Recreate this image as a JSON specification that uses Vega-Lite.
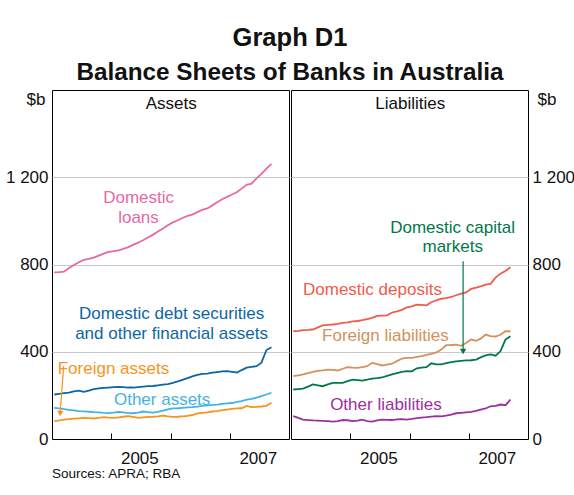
{
  "$schema": "https://vega.github.io/schema/vega-lite/v6.json",
  "padding": {"left": 4, "top": 25, "right": 0, "bottom": 5},
  "background": "white",
  "config": {
    "font": "Liberation Sans",
    "view": {"stroke": "#000000", "strokeWidth": 1},
    "axis": {"labelFont": "Liberation Sans", "labelFontSize": 17, "labelColor": "#111111", "titleFont": "Liberation Sans", "titleFontSize": 17, "titleFontWeight": "normal", "titleColor": "#111111"},
    "text": {"font": "Liberation Sans", "fontSize": 17}
  },
  "title": {"text": "Graph D1", "subtitle": "Balance Sheets of Banks in Australia", "font": "Liberation Sans", "subtitleFont": "Liberation Sans", "fontSize": 25.5, "fontWeight": "bold", "subtitleFontSize": 24.3, "subtitleFontWeight": "bold", "color": "#111111", "subtitleColor": "#111111", "anchor": "middle", "offset": 4, "subtitlePadding": 10},
  "datasets": {
    "assets": [
      {"d": "2004-01-15", "loans": 764, "debt": 204, "other": 143, "foreign": 82},
      {"d": "2004-02-15", "loans": 765, "debt": 207, "other": 140, "foreign": 85},
      {"d": "2004-03-15", "loans": 767, "debt": 210, "other": 137, "foreign": 89},
      {"d": "2004-04-15", "loans": 784, "debt": 213, "other": 134, "foreign": 91},
      {"d": "2004-05-15", "loans": 798, "debt": 218, "other": 131, "foreign": 93},
      {"d": "2004-06-15", "loans": 810, "debt": 222, "other": 128, "foreign": 95},
      {"d": "2004-07-15", "loans": 821, "debt": 216, "other": 127, "foreign": 97},
      {"d": "2004-08-15", "loans": 826, "debt": 222, "other": 125, "foreign": 96},
      {"d": "2004-09-15", "loans": 832, "debt": 229, "other": 123, "foreign": 94},
      {"d": "2004-10-15", "loans": 841, "debt": 232, "other": 122, "foreign": 97},
      {"d": "2004-11-15", "loans": 850, "debt": 234, "other": 120, "foreign": 100},
      {"d": "2004-12-15", "loans": 858, "debt": 236, "other": 119, "foreign": 98},
      {"d": "2005-01-15", "loans": 861, "debt": 238, "other": 121, "foreign": 97},
      {"d": "2005-02-15", "loans": 865, "debt": 239, "other": 124, "foreign": 99},
      {"d": "2005-03-15", "loans": 872, "debt": 238, "other": 122, "foreign": 102},
      {"d": "2005-04-15", "loans": 880, "debt": 236, "other": 119, "foreign": 105},
      {"d": "2005-05-15", "loans": 890, "debt": 236, "other": 118, "foreign": 101},
      {"d": "2005-06-15", "loans": 900, "debt": 238, "other": 121, "foreign": 97},
      {"d": "2005-07-15", "loans": 911, "debt": 240, "other": 126, "foreign": 99},
      {"d": "2005-08-15", "loans": 924, "debt": 242, "other": 123, "foreign": 101},
      {"d": "2005-09-15", "loans": 937, "debt": 243, "other": 121, "foreign": 102},
      {"d": "2005-10-15", "loans": 951, "debt": 246, "other": 124, "foreign": 104},
      {"d": "2005-11-15", "loans": 965, "debt": 249, "other": 130, "foreign": 107},
      {"d": "2005-12-15", "loans": 980, "debt": 252, "other": 136, "foreign": 104},
      {"d": "2006-01-15", "loans": 993, "debt": 257, "other": 140, "foreign": 101},
      {"d": "2006-02-15", "loans": 1003, "debt": 264, "other": 141, "foreign": 102},
      {"d": "2006-03-15", "loans": 1013, "debt": 271, "other": 143, "foreign": 104},
      {"d": "2006-04-15", "loans": 1023, "debt": 279, "other": 145, "foreign": 106},
      {"d": "2006-05-15", "loans": 1029, "debt": 287, "other": 146, "foreign": 110},
      {"d": "2006-06-15", "loans": 1040, "debt": 294, "other": 148, "foreign": 117},
      {"d": "2006-07-15", "loans": 1050, "debt": 299, "other": 152, "foreign": 120},
      {"d": "2006-08-15", "loans": 1057, "debt": 300, "other": 154, "foreign": 122},
      {"d": "2006-09-15", "loans": 1071, "debt": 304, "other": 156, "foreign": 126},
      {"d": "2006-10-15", "loans": 1085, "debt": 307, "other": 158, "foreign": 128},
      {"d": "2006-11-15", "loans": 1099, "debt": 310, "other": 161, "foreign": 132},
      {"d": "2006-12-15", "loans": 1110, "debt": 311, "other": 163, "foreign": 135},
      {"d": "2007-01-15", "loans": 1121, "debt": 308, "other": 165, "foreign": 138},
      {"d": "2007-02-15", "loans": 1132, "debt": 305, "other": 170, "foreign": 140},
      {"d": "2007-03-15", "loans": 1148, "debt": 316, "other": 174, "foreign": 141},
      {"d": "2007-04-15", "loans": 1165, "debt": 327, "other": 180, "foreign": 152},
      {"d": "2007-05-15", "loans": 1171, "debt": 331, "other": 184, "foreign": 146},
      {"d": "2007-06-15", "loans": 1195, "debt": 334, "other": 190, "foreign": 147},
      {"d": "2007-07-15", "loans": 1215, "debt": 350, "other": 197, "foreign": 149},
      {"d": "2007-08-15", "loans": 1240, "debt": 408, "other": 204, "foreign": 152},
      {"d": "2007-09-15", "loans": 1261, "debt": 421, "other": 212, "foreign": 166}
    ],
    "liab": [
      {"d": "2004-01-15", "deposits": 494, "flia": 288, "capmkt": 227, "olia": 105},
      {"d": "2004-02-15", "deposits": 496, "flia": 292, "capmkt": 229, "olia": 97},
      {"d": "2004-03-15", "deposits": 499, "flia": 296, "capmkt": 231, "olia": 89},
      {"d": "2004-04-15", "deposits": 500, "flia": 302, "capmkt": 240, "olia": 87},
      {"d": "2004-05-15", "deposits": 502, "flia": 308, "capmkt": 250, "olia": 85},
      {"d": "2004-06-15", "deposits": 512, "flia": 312, "capmkt": 246, "olia": 84},
      {"d": "2004-07-15", "deposits": 521, "flia": 315, "capmkt": 242, "olia": 83},
      {"d": "2004-08-15", "deposits": 523, "flia": 318, "capmkt": 250, "olia": 82},
      {"d": "2004-09-15", "deposits": 525, "flia": 317, "capmkt": 257, "olia": 80},
      {"d": "2004-10-15", "deposits": 528, "flia": 314, "capmkt": 257, "olia": 82},
      {"d": "2004-11-15", "deposits": 532, "flia": 322, "capmkt": 257, "olia": 87},
      {"d": "2004-12-15", "deposits": 535, "flia": 329, "capmkt": 265, "olia": 86},
      {"d": "2005-01-15", "deposits": 539, "flia": 327, "capmkt": 272, "olia": 82},
      {"d": "2005-02-15", "deposits": 541, "flia": 326, "capmkt": 270, "olia": 84},
      {"d": "2005-03-15", "deposits": 545, "flia": 330, "capmkt": 268, "olia": 89},
      {"d": "2005-04-15", "deposits": 550, "flia": 334, "capmkt": 272, "olia": 82},
      {"d": "2005-05-15", "deposits": 555, "flia": 349, "capmkt": 277, "olia": 80},
      {"d": "2005-06-15", "deposits": 564, "flia": 343, "capmkt": 279, "olia": 85},
      {"d": "2005-07-15", "deposits": 566, "flia": 337, "capmkt": 282, "olia": 89},
      {"d": "2005-08-15", "deposits": 567, "flia": 341, "capmkt": 289, "olia": 88},
      {"d": "2005-09-15", "deposits": 580, "flia": 345, "capmkt": 296, "olia": 87},
      {"d": "2005-10-15", "deposits": 585, "flia": 357, "capmkt": 302, "olia": 90},
      {"d": "2005-11-15", "deposits": 592, "flia": 369, "capmkt": 308, "olia": 91},
      {"d": "2005-12-15", "deposits": 603, "flia": 372, "capmkt": 311, "olia": 89},
      {"d": "2006-01-15", "deposits": 608, "flia": 372, "capmkt": 310, "olia": 92},
      {"d": "2006-02-15", "deposits": 616, "flia": 376, "capmkt": 324, "olia": 96},
      {"d": "2006-03-15", "deposits": 615, "flia": 380, "capmkt": 327, "olia": 98},
      {"d": "2006-04-15", "deposits": 613, "flia": 386, "capmkt": 329, "olia": 100},
      {"d": "2006-05-15", "deposits": 627, "flia": 390, "capmkt": 347, "olia": 103},
      {"d": "2006-06-15", "deposits": 636, "flia": 397, "capmkt": 342, "olia": 105},
      {"d": "2006-07-15", "deposits": 643, "flia": 410, "capmkt": 342, "olia": 104},
      {"d": "2006-08-15", "deposits": 646, "flia": 430, "capmkt": 348, "olia": 107},
      {"d": "2006-09-15", "deposits": 651, "flia": 431, "capmkt": 352, "olia": 112},
      {"d": "2006-10-15", "deposits": 659, "flia": 433, "capmkt": 356, "olia": 118},
      {"d": "2006-11-15", "deposits": 666, "flia": 427, "capmkt": 358, "olia": 120},
      {"d": "2006-12-15", "deposits": 672, "flia": 440, "capmkt": 360, "olia": 122},
      {"d": "2007-01-15", "deposits": 688, "flia": 456, "capmkt": 361, "olia": 124},
      {"d": "2007-02-15", "deposits": 694, "flia": 450, "capmkt": 364, "olia": 129},
      {"d": "2007-03-15", "deposits": 700, "flia": 460, "capmkt": 374, "olia": 135},
      {"d": "2007-04-15", "deposits": 708, "flia": 479, "capmkt": 383, "olia": 140},
      {"d": "2007-05-15", "deposits": 711, "flia": 472, "capmkt": 388, "olia": 150},
      {"d": "2007-06-15", "deposits": 740, "flia": 470, "capmkt": 382, "olia": 152},
      {"d": "2007-07-15", "deposits": 758, "flia": 478, "capmkt": 402, "olia": 158},
      {"d": "2007-08-15", "deposits": 770, "flia": 494, "capmkt": 456, "olia": 155},
      {"d": "2007-09-15", "deposits": 787, "flia": 494, "capmkt": 471, "olia": 181}
    ],
    "labels": [
      {"panel": "A", "series": "hdr", "text": "Assets", "d": "2006-01-05", "v": 1537},
      {"panel": "A", "series": "loans", "text": "Domestic", "d": "2005-06-18", "v": 1107},
      {"panel": "A", "series": "loans", "text": "loans", "d": "2005-06-17", "v": 1015},
      {"panel": "A", "series": "debt", "text": "Domestic debt securities", "d": "2006-01-07", "v": 575},
      {"panel": "A", "series": "debt", "text": "and other financial assets", "d": "2006-01-07", "v": 483},
      {"panel": "A", "series": "foreign", "text": "Foreign assets", "d": "2005-01-14", "v": 321},
      {"panel": "A", "series": "other", "text": "Other assets", "d": "2005-11-10", "v": 181},
      {"panel": "L", "series": "hdr", "text": "Liabilities", "d": "2006-01-05", "v": 1537},
      {"panel": "L", "series": "capmkt", "text": "Domestic capital", "d": "2006-09-23", "v": 969},
      {"panel": "L", "series": "capmkt", "text": "markets", "d": "2006-09-24", "v": 882},
      {"panel": "L", "series": "deposits", "text": "Domestic deposits", "d": "2005-05-17", "v": 685},
      {"panel": "L", "series": "flia", "text": "Foreign liabilities", "d": "2005-08-05", "v": 470},
      {"panel": "L", "series": "olia", "text": "Other liabilities", "d": "2005-08-08", "v": 158}
    ],
    "arrows": [
      {"panel": "A", "series": "foreign", "d": "2004-03-13", "v": 334, "d2": "2004-02-20", "v2": 117},
      {"panel": "L", "series": "capmkt", "d": "2006-11-27", "v": 815, "d2": "2006-11-27", "v2": 401}
    ]
  },
  "spacing": 0,
  "hconcat": [
    {
      "width": 237,
      "height": 349,
      "title": {"text": "Sources: APRA; RBA", "orient": "bottom", "anchor": "start", "frame": "group", "fontSize": 13.5, "fontWeight": "normal", "color": "#111111", "offset": 1, "font": "Liberation Sans"},
      "layer": [
        {
          "data": {"name": "assets"},
          "transform": [{"fold": ["loans", "debt", "other", "foreign"], "as": ["series", "value"]}],
          "mark": {"type": "line", "strokeWidth": 1.8, "clip": true},
          "encoding": {
            "x": {"field": "d", "type": "temporal",
              "scale": {"type": "utc", "domain": [{"year": 2004, "month": 1, "date": 1, "utc": true}, {"year": 2008, "month": 1, "date": 1, "utc": true}]},
              "axis": {"title": null, "values": [{"year": 2005, "month": 1, "date": 1, "utc": true}, {"year": 2006, "month": 1, "date": 1, "utc": true}, {"year": 2007, "month": 1, "date": 1, "utc": true}],
                "format": "%Y", "labelExpr": "datum.label == '2006' ? '' : datum.label", "grid": false, "domain": true, "domainColor": "#000000", "ticks": true, "tickColor": "#000000", "tickSize": -6, "labelOffset": 28, "labelPadding": 17, "labelFlush": false, "labelOverlap": false}},
            "y": {"field": "value", "type": "quantitative", "scale": {"domain": [0, 1600]},
              "axis": {"title": "$b", "titleAngle": 0, "titleAlign": "right", "titleBaseline": "middle", "titleX": -7, "titleY": 9, "values": [0, 400, 800, 1200], "labelExpr": "datum.value == 1200 ? '1 200' : datum.label", "grid": true, "gridColor": "#c8c8c8", "ticks": false, "domain": false, "labelPadding": 4}},
            "color": {"field": "series", "type": "nominal", "legend": null,
              "scale": {"domain": ["loans", "debt", "other", "foreign", "deposits", "flia", "capmkt", "olia", "hdr"], "range": ["#e46aa6", "#0c66a3", "#45b3e0", "#f7941d", "#ef5b4c", "#d4915d", "#00784a", "#9c2fa0", "#111111"]}}
          }
        },
        {
          "data": {"name": "labels"},
          "transform": [{"filter": "datum.panel == 'A'"}],
          "mark": {"type": "text", "align": "center", "baseline": "middle", "fontSize": 17},
          "encoding": {
            "x": {"field": "d", "type": "temporal"},
            "y": {"field": "v", "type": "quantitative"},
            "text": {"field": "text"},
            "color": {"field": "series", "type": "nominal", "legend": null,
              "scale": {"domain": ["loans", "debt", "other", "foreign", "deposits", "flia", "capmkt", "olia", "hdr"], "range": ["#e46aa6", "#0c66a3", "#45b3e0", "#f7941d", "#ef5b4c", "#d4915d", "#00784a", "#9c2fa0", "#111111"]}}
          }
        },
        {
          "data": {"name": "arrows"},
          "transform": [{"filter": "datum.panel == 'A'"}],
          "mark": {"type": "rule", "strokeWidth": 1.2},
          "encoding": {
            "x": {"field": "d", "type": "temporal"},
            "y": {"field": "v", "type": "quantitative"},
            "x2": {"field": "d2"},
            "y2": {"field": "v2"},
            "color": {"field": "series", "type": "nominal", "legend": null,
              "scale": {"domain": ["loans", "debt", "other", "foreign", "deposits", "flia", "capmkt", "olia", "hdr"], "range": ["#e46aa6", "#0c66a3", "#45b3e0", "#f7941d", "#ef5b4c", "#d4915d", "#00784a", "#9c2fa0", "#111111"]}}
          }
        },
        {
          "data": {"name": "arrows"},
          "transform": [{"filter": "datum.panel == 'A'"}],
          "mark": {"type": "point", "shape": "triangle-down", "filled": true, "size": 40, "angle": 5, "opacity": 1},
          "encoding": {
            "x": {"field": "d2", "type": "temporal"},
            "y": {"field": "v2", "type": "quantitative"},
            "color": {"field": "series", "type": "nominal", "legend": null,
              "scale": {"domain": ["loans", "debt", "other", "foreign", "deposits", "flia", "capmkt", "olia", "hdr"], "range": ["#e46aa6", "#0c66a3", "#45b3e0", "#f7941d", "#ef5b4c", "#d4915d", "#00784a", "#9c2fa0", "#111111"]}}
          }
        }
      ]
    },
    {
      "width": 237,
      "height": 349,
      "layer": [
        {
          "data": {"name": "liab"},
          "transform": [{"fold": ["deposits", "flia", "capmkt", "olia"], "as": ["series", "value"]}],
          "mark": {"type": "line", "strokeWidth": 1.8, "clip": true},
          "encoding": {
            "x": {"field": "d", "type": "temporal",
              "scale": {"type": "utc", "domain": [{"year": 2004, "month": 1, "date": 1, "utc": true}, {"year": 2008, "month": 1, "date": 1, "utc": true}]},
              "axis": {"title": null, "values": [{"year": 2005, "month": 1, "date": 1, "utc": true}, {"year": 2006, "month": 1, "date": 1, "utc": true}, {"year": 2007, "month": 1, "date": 1, "utc": true}],
                "format": "%Y", "labelExpr": "datum.label == '2006' ? '' : datum.label", "grid": false, "domain": true, "domainColor": "#000000", "ticks": true, "tickColor": "#000000", "tickSize": -6, "labelOffset": 28, "labelPadding": 17, "labelFlush": false, "labelOverlap": false}},
            "y": {"field": "value", "type": "quantitative", "scale": {"domain": [0, 1600]},
              "axis": {"orient": "right", "title": "$b", "titleAngle": 0, "titleAlign": "left", "titleBaseline": "middle", "titleX": 9, "titleY": 9, "values": [0, 400, 800, 1200], "labelExpr": "datum.value == 1200 ? '1 200' : datum.label", "grid": true, "gridColor": "#c8c8c8", "ticks": false, "domain": false, "labelPadding": 4}},
            "color": {"field": "series", "type": "nominal", "legend": null,
              "scale": {"domain": ["loans", "debt", "other", "foreign", "deposits", "flia", "capmkt", "olia", "hdr"], "range": ["#e46aa6", "#0c66a3", "#45b3e0", "#f7941d", "#ef5b4c", "#d4915d", "#00784a", "#9c2fa0", "#111111"]}}
          }
        },
        {
          "data": {"name": "labels"},
          "transform": [{"filter": "datum.panel == 'L'"}],
          "mark": {"type": "text", "align": "center", "baseline": "middle", "fontSize": 17},
          "encoding": {
            "x": {"field": "d", "type": "temporal"},
            "y": {"field": "v", "type": "quantitative"},
            "text": {"field": "text"},
            "color": {"field": "series", "type": "nominal", "legend": null,
              "scale": {"domain": ["loans", "debt", "other", "foreign", "deposits", "flia", "capmkt", "olia", "hdr"], "range": ["#e46aa6", "#0c66a3", "#45b3e0", "#f7941d", "#ef5b4c", "#d4915d", "#00784a", "#9c2fa0", "#111111"]}}
          }
        },
        {
          "data": {"name": "arrows"},
          "transform": [{"filter": "datum.panel == 'L'"}],
          "mark": {"type": "rule", "strokeWidth": 1.2},
          "encoding": {
            "x": {"field": "d", "type": "temporal"},
            "y": {"field": "v", "type": "quantitative"},
            "x2": {"field": "d2"},
            "y2": {"field": "v2"},
            "color": {"field": "series", "type": "nominal", "legend": null,
              "scale": {"domain": ["loans", "debt", "other", "foreign", "deposits", "flia", "capmkt", "olia", "hdr"], "range": ["#e46aa6", "#0c66a3", "#45b3e0", "#f7941d", "#ef5b4c", "#d4915d", "#00784a", "#9c2fa0", "#111111"]}}
          }
        },
        {
          "data": {"name": "arrows"},
          "transform": [{"filter": "datum.panel == 'L'"}],
          "mark": {"type": "point", "shape": "triangle-down", "filled": true, "size": 40, "opacity": 1},
          "encoding": {
            "x": {"field": "d2", "type": "temporal"},
            "y": {"field": "v2", "type": "quantitative"},
            "color": {"field": "series", "type": "nominal", "legend": null,
              "scale": {"domain": ["loans", "debt", "other", "foreign", "deposits", "flia", "capmkt", "olia", "hdr"], "range": ["#e46aa6", "#0c66a3", "#45b3e0", "#f7941d", "#ef5b4c", "#d4915d", "#00784a", "#9c2fa0", "#111111"]}}
          }
        }
      ]
    }
  ]
}
